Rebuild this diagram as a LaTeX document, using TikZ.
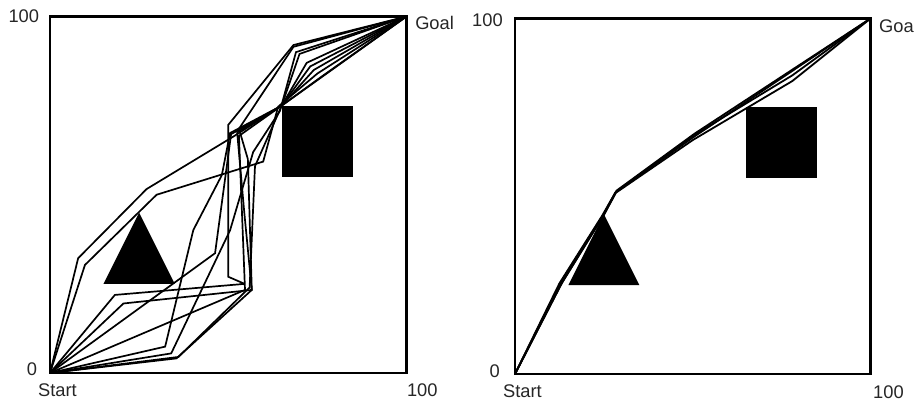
\documentclass[tikz,border=0pt]{standalone}
\usepackage{fontspec}
\setmainfont{Liberation Sans}
\begin{document}
\begin{tikzpicture}[x=1pt,y=1pt,
  frame/.style={line width=2.2pt},
  obst/.style={fill=black},
  route/.style={line width=1.7pt, line join=miter, miter limit=4},
  droute/.style={line width=1.8pt, line join=miter},
  lbl/.style={inner sep=0pt, text=black!85, font=\fontsize{18.3}{18.3}\selectfont}]
\useasboundingbox (0,0) rectangle (914,402);
% ---------- left panel ----------
\begin{scope}[shift={(50,29)}, x=3.565pt, y=3.565pt]
  \draw[frame] (0,0) rectangle (100,100);
  \fill[obst] (65,55) rectangle (85,75);
  \fill[obst] (15,25) -- (35,25) -- (25,45) -- cycle;
  \draw[route] (0,0) -- (7.9,32.2) -- (27.1,51.6) -- (51.4,66.3) -- (65,75) -- (72,87) -- (100,100);
  \draw[route] (0,0) -- (9.8,30.3) -- (29.9,50) -- (59.8,59.3) -- (64,74.7) -- (75,84) -- (100,100);
  \draw[route] (0,0) -- (18.2,21.9) -- (54.6,25) -- (50,27) -- (50,69.6) -- (68.3,92) -- (100,100);
  \draw[route] (0,0) -- (20.6,19.5) -- (56.6,23.3) -- (55.5,60) -- (53,68.5) -- (68.3,91.5) -- (100,100);
  \draw[route] (0,0) -- (35.5,4.1) -- (56.6,23.3) -- (54.5,45) -- (52.5,67.5) -- (65,75) -- (70,89.5) -- (100,100);
  \draw[route] (0,0) -- (32.3,7.4) -- (40.2,40.1) -- (48.2,55.5) -- (50.5,67.3) -- (65,75) -- (73,86) -- (100,100);
  \draw[route] (0,0) -- (46.3,33.6) -- (50.8,67) -- (65,75) -- (100,100);
  \draw[route] (0,0) -- (34,5.5) -- (50.5,40) -- (57,62) -- (64.5,73.5) -- (69,90) -- (100,100);
  \draw[route] (0,0) -- (54.7,23.3) -- (53,66.5) -- (65,75) -- (74,85) -- (100,100);
  \draw[route] (0,0) -- (36,4.5) -- (56,24) -- (57.5,58) -- (65,75) -- (76,83) -- (100,100);
  \node[lbl, anchor=east] (l100y) at (-3,100) {100};
  \node[lbl, anchor=west] (lgoal) at (102.4,98.3) {Goal};
  \node[lbl, anchor=east] (l0) at (-3.6,1) {0};
  \node[lbl, anchor=base west] (lstart) at (-3.4,-6.7) {Start};
  \node[lbl, anchor=base west] (l100x) at (100.1,-6.7) {100};
\end{scope}
% ---------- right panel ----------
\begin{scope}[shift={(515,28)}, x=3.555pt, y=3.555pt]
  \draw[frame] (0,0) rectangle (100,100);
  \fill[obst] (65,55) rectangle (85,75);
  \fill[obst] (15,25) -- (35,25) -- (25,45) -- cycle;
  \draw[droute] (0,0) -- (13,26) -- (25,45) -- (28.4,51.3) -- (50,67) -- (78,84) -- (100,100);
  \draw[droute] (0,0) -- (12.5,25.5) -- (24.5,44.5) -- (28.2,51) -- (50,66.5) -- (100,100);
  \draw[droute] (0,0) -- (13.3,25.8) -- (25,44.7) -- (28.6,51.6) -- (50.5,67.6) -- (100,100);
  \draw[droute] (0,0) -- (13,25.3) -- (24.8,44.5) -- (28.4,51) -- (50,65.8) -- (78,82.4) -- (100,100);
  \node[lbl, anchor=east] (r100y) at (-3.4,99.6) {100};
  \node[lbl, anchor=west] (rgoal) at (102.4,97.9) {Goa};
  \node[lbl, anchor=east] (r0) at (-4.2,0.8) {0};
  \node[lbl, anchor=base west] (rstart) at (-3.4,-6.75) {Start};
  \node[lbl, anchor=base west] (r100x) at (100.7,-7) {100};
\end{scope}
\end{tikzpicture}
\end{document}
